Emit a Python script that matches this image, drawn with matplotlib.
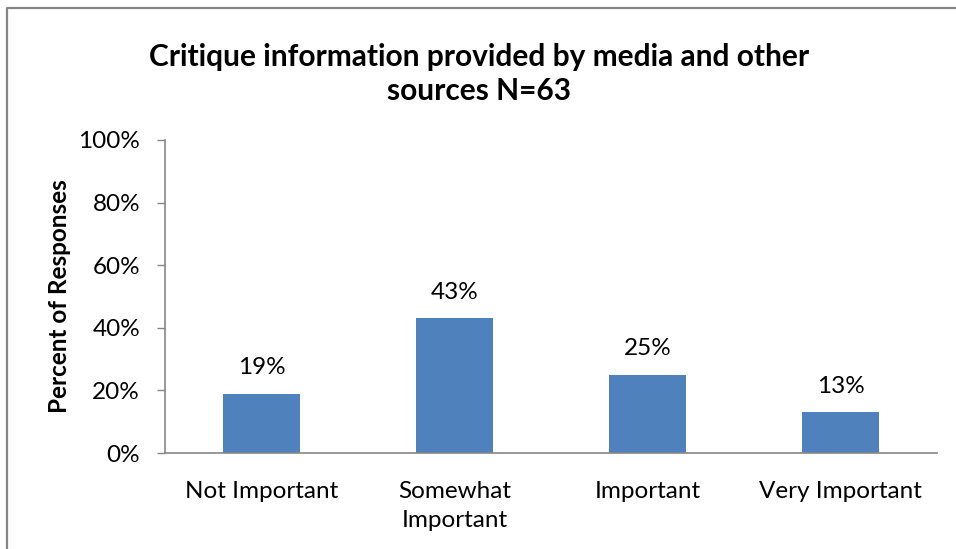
import matplotlib
matplotlib.use("Agg")
import matplotlib.pyplot as plt
from matplotlib.lines import Line2D
from matplotlib.ticker import FuncFormatter, MultipleLocator

# Survey results
categories = ["Not Important", "Somewhat\nImportant", "Important", "Very Important"]
percents = [19, 43, 25, 13]
title = "Critique information provided by media and other\nsources N=63"

plt.rcParams['font.family'] = ['Lato', 'DejaVu Sans']

W, H = 956, 549
fig = plt.figure(figsize=(W / 100, H / 100), dpi=100)
ax = fig.add_axes([165 / W, 1 - 453 / H, 772 / W, 313 / H])

# Chart area border (only the top and left edges fall inside the image)
fig.add_artist(Line2D([7 / W, 7 / W, 1.0], [0.0, 1 - 8 / H, 1 - 8 / H],
                      transform=fig.transFigure, color='#868686', linewidth=1.6))

x = range(len(categories))
bars = ax.bar(x, percents, width=0.4, color='#4F81BD', zorder=2)

for xi, p in zip(x, percents):
    ax.text(xi, p + 5, "%d%%" % p, ha='center', va='bottom', fontsize=17.5)

ax.set_xlim(-0.5, len(categories) - 0.5)
ax.set_ylim(0, 100)
ax.yaxis.set_major_locator(MultipleLocator(20))
ax.yaxis.set_major_formatter(FuncFormatter(lambda v, pos: "%d%%" % v))
ax.set_xticks(list(x))
ax.set_xticklabels(categories, fontsize=17.5, linespacing=1.5)
ax.tick_params(axis='x', length=0, pad=20)
ax.tick_params(axis='y', length=6, width=1, color='#868686', labelsize=17.5, pad=12)

for side in ['top', 'right']:
    ax.spines[side].set_visible(False)
for side in ['left', 'bottom']:
    ax.spines[side].set_color('#868686')
    ax.spines[side].set_linewidth(1.2)

ax.set_ylabel("Percent of Responses", fontsize=17.5, fontweight='bold', labelpad=5)

fig.text(479 / W, 1 - 74 / H, title, ha='center', va='center',
         fontsize=21.5, fontweight='bold', linespacing=1.25)

fig.savefig("out.png", dpi=100)
